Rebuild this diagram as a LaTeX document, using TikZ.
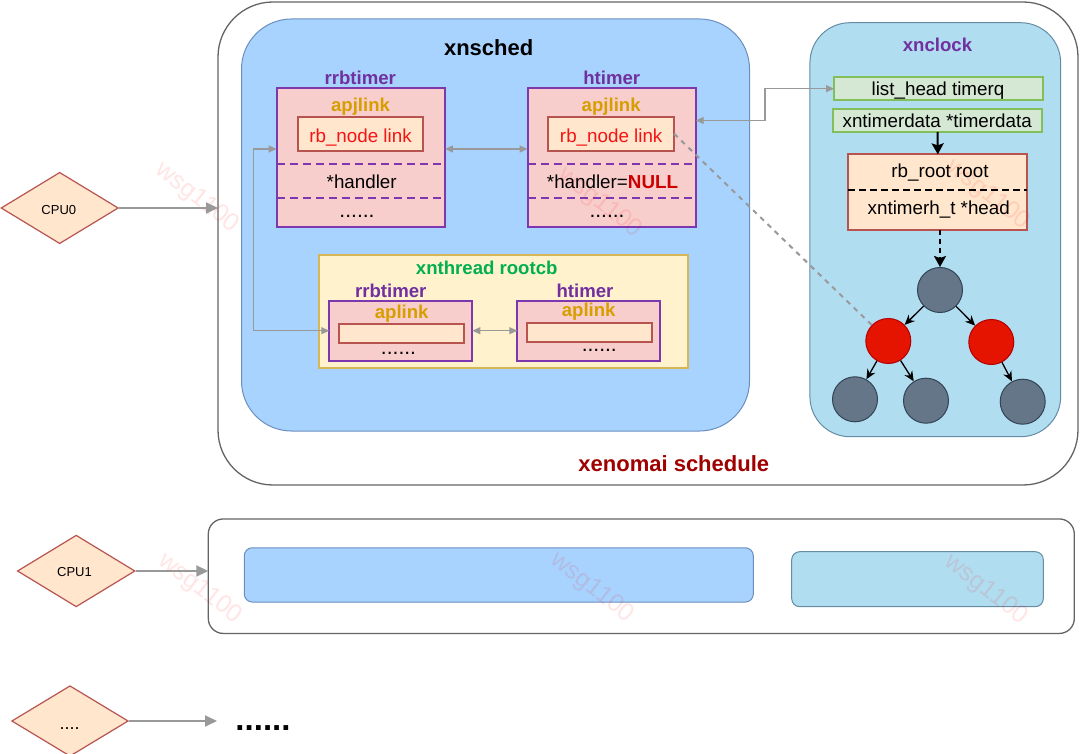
\documentclass[tikz,border=0pt]{standalone}
\usepackage{fontspec}
\setmainfont{Liberation Sans}
\usetikzlibrary{arrows.meta,shapes.geometric,calc}
\definecolor{outerc}{RGB}{100,100,100}
\definecolor{schedfill}{RGB}{167,211,254}
\definecolor{schedst}{RGB}{108,142,191}
\definecolor{clockfill}{RGB}{177,221,240}
\definecolor{clockst}{RGB}{100,140,165}
\definecolor{pinkfill}{RGB}{248,206,204}
\definecolor{purplest}{RGB}{125,55,175}
\definecolor{purpletxt}{RGB}{112,48,160}
\definecolor{goldtxt}{RGB}{215,158,0}
\definecolor{linkfill}{RGB}{255,230,204}
\definecolor{linkst}{RGB}{184,84,80}
\definecolor{linktxt}{RGB}{245,20,20}
\definecolor{nullred}{RGB}{204,0,0}
\definecolor{rootfill}{RGB}{255,242,204}
\definecolor{rootst}{RGB}{214,182,86}
\definecolor{greentxt}{RGB}{0,176,80}
\definecolor{schedred}{RGB}{160,0,0}
\definecolor{lhfill}{RGB}{213,232,212}
\definecolor{lhst}{RGB}{130,190,90}
\definecolor{nodedark}{RGB}{100,118,135}
\definecolor{nodedarkst}{RGB}{49,67,84}
\definecolor{nodered}{RGB}{229,20,0}
\definecolor{noderedst}{RGB}{178,0,0}
\definecolor{arrgray}{RGB}{153,153,153}
\definecolor{cpufill}{RGB}{255,230,204}
\definecolor{cpust}{RGB}{184,84,80}
\begin{document}
\begin{tikzpicture}[x=1pt,y=-1pt,
  box/.style={draw, inner sep=0pt, outer sep=0pt},
  lbl/.style={anchor=base, inner sep=0pt, font=\fontsize{18.6}{20}\selectfont\bfseries},
  txt/.style={anchor=base, inner sep=0pt, font=\fontsize{18.8}{20}\selectfont},
  dots/.style={anchor=base, inner sep=0pt, font=\fontsize{21}{21}\selectfont},
  small/.style={anchor=base, inner sep=0pt, font=\fontsize{13}{14}\selectfont},
  timerbox/.style={box, draw=purplest, fill=pinkfill, line width=2pt},
  linkbox/.style={box, draw=linkst, fill=linkfill, line width=2pt},
  greenbox/.style={box, draw=lhst, fill=lhfill, line width=2pt},
  pdash/.style={draw=purplest, line width=2pt, dash pattern=on 8pt off 5pt},
  gdbl/.style={draw=arrgray, line width=1.2pt, {Triangle[length=8pt,width=7pt]}-{Triangle[length=8pt,width=7pt]}},
  cpuarrow/.style={draw=arrgray, line width=2pt, -{Triangle[length=12pt,width=11pt]}},
  cpu/.style={diamond, draw=cpust, fill=cpufill, line width=1.2pt, inner sep=0pt},
  darkc/.style={circle, draw=nodedarkst, fill=nodedark, line width=1pt, minimum size=45pt, inner sep=0pt},
  redc/.style={circle, draw=noderedst, fill=nodered, line width=1pt, minimum size=45pt, inner sep=0pt},
  treearr/.style={draw=black, line width=1.3pt, -{Stealth[length=10pt,width=9pt]}},
  wm/.style={rotate=-38, text=red, opacity=0.1, inner sep=0pt, font=\fontsize{25}{25}\selectfont}
]
\useasboundingbox (0,0) rectangle (1080,754);

% outer containers
\node[box, draw=outerc, line width=1.3pt, rounded corners=55pt, minimum width=860pt, minimum height=483pt] (outer) at (648,243.5) {};
\node[box, draw=schedst, fill=schedfill, line width=1pt, rounded corners=50pt, minimum width=508pt, minimum height=412pt] (xnsched) at (495.5,225) {};
\node[box, draw=clockst, fill=clockfill, line width=1pt, rounded corners=40pt, minimum width=250.7pt, minimum height=414pt] (xnclock) at (935.3,229.7) {};

% watermarks (faint, beneath the content)
\node[wm] (wm1) at (197,198) {wsg1100};
\node[wm] (wm4) at (200,589) {wsg1100};

% xnsched contents
\node[lbl, font=\fontsize{22}{24}\selectfont\bfseries] (tsched) at (488.7,56) {xnsched};
\node[lbl, text=purpletxt] (trrb) at (360.3,84.5) {rrbtimer};
\node[lbl, text=purpletxt] (tht) at (611.7,84.5) {htimer};
\node[timerbox, minimum width=168.3pt, minimum height=138.4pt] (rrb) at (360.8,157.5) {};
\node[timerbox, minimum width=168pt, minimum height=138.4pt] (ht) at (611.7,157.5) {};
\node[lbl, text=goldtxt] (tapj1) at (360.5,111.5) {apjlink};
\node[lbl, text=goldtxt] (tapj2) at (611.2,111.5) {apjlink};
\node[linkbox, minimum width=125.6pt, minimum height=34pt] (rrblink) at (360.5,133.7) {};
\node[linkbox, minimum width=125.7pt, minimum height=34pt] (htlink) at (611.2,133.7) {};
\node[txt, text=linktxt] (trl1) at (360.5,142.3) {rb\_node link};
\node[txt, text=linktxt] (trl2) at (611.2,142.3) {rb\_node link};
\draw[pdash] ([yshift=-6.5pt]rrb.west) -- ([yshift=-6.5pt]rrb.east);
\draw[pdash] ([yshift=-40.8pt]rrb.west) -- ([yshift=-40.8pt]rrb.east);
\draw[pdash] ([yshift=-6.5pt]ht.west) -- ([yshift=-6.5pt]ht.east);
\draw[pdash] ([yshift=-40.8pt]ht.west) -- ([yshift=-40.8pt]ht.east);
\node[wm] (wm2) at (600,203) {wsg1100};
\node[txt] (th1) at (361.7,188.3) {*handler};
\node[txt] (th2) at (612.5,188.3) {*handler=\textcolor{nullred}{\bfseries NULL}};
\node[dots] (td1) at (357,217.3) {......};
\node[dots] (td2) at (607,217.3) {......};

% xnthread rootcb
\node[box, draw=rootst, fill=rootfill, line width=2pt, minimum width=368.4pt, minimum height=113.3pt] (rootcb) at (503.5,311.7) {};
\node[lbl, text=greentxt] (troot) at (486.7,275) {xnthread rootcb};
\node[lbl, text=purpletxt] (tirrb) at (390.8,297.3) {rrbtimer};
\node[lbl, text=purpletxt] (tiht) at (585,297.3) {htimer};
\node[timerbox, minimum width=143pt, minimum height=60pt] (irrb) at (400.8,330.7) {};
\node[timerbox, minimum width=142.7pt, minimum height=60pt] (iht) at (588.7,330.7) {};
\node[lbl, text=goldtxt] (tap1) at (401.7,319) {aplink};
\node[lbl, text=goldtxt] (tap2) at (588.7,316.7) {aplink};
\node[linkbox, minimum width=125pt, minimum height=19.3pt] (irrblink) at (401.5,333.7) {};
\node[linkbox, minimum width=124.4pt, minimum height=18.4pt] (ihtlink) at (589.5,332.5) {};
\node[dots] (tid1) at (398.5,355) {......};
\node[dots] (tid2) at (599.3,351.7) {......};

% xnclock contents
\node[lbl, text=purpletxt] (tclock) at (937.5,51.7) {xnclock};
\node[greenbox, minimum width=209.3pt, minimum height=22.7pt] (lhead) at (938.7,88.7) {};
\node[greenbox, minimum width=209.6pt, minimum height=23pt] (xntd) at (937.5,120.5) {};
\node[txt] (tlh) at (938,95.5) {list\_head timerq};
\node[txt] (txtd) at (937.2,127.3) {xntimerdata *timerdata};
\node[linkbox, minimum width=179pt, minimum height=75.7pt] (rbroot) at (937.8,192.2) {};
\node[wm] (wm3) at (988,195) {wsg1100};
\draw[black, line width=2pt, dash pattern=on 7pt off 4pt] ([yshift=2.2pt]rbroot.west) -- ([yshift=2.2pt]rbroot.east);
\node[txt] (trr) at (940,177.3) {rb\_root root};
\node[txt] (txh) at (938.8,215) {xntimerh\_t *head};

% tree nodes
\node[darkc] (n0) at (940,290) {};
\node[redc] (nl) at (888.3,341) {};
\node[redc] (nr) at (991.3,342) {};
\node[darkc] (nll) at (855,399.3) {};
\node[darkc] (nlr) at (926,400.7) {};
\node[darkc] (nrr) at (1022.7,401.7) {};

% connectors
\draw[gdbl] ([yshift=8.5pt]rrb.east) -- ([yshift=8.5pt]ht.west);
\draw[gdbl] ([yshift=8.5pt]rrb.west) -- ++(-23.5,0) |- (irrb.west);
\draw[gdbl] (irrb.east) -- (iht.west);
\coordinate (bend) at (765,88.7);
\draw[gdbl] (ht.east |- xntd.west) -| (bend) -- (lhead.west);
\draw[draw=arrgray, line width=2pt, dash pattern=on 5pt off 5pt] (htlink.east) -- (nl);
\draw[black, line width=2pt, -{Stealth[length=11pt,width=12pt,inset=2pt]}] (xntd.south) -- (rbroot.north);
\draw[black, line width=2pt, dash pattern=on 5pt off 4pt, -{Stealth[length=11pt,width=12pt,inset=2pt]}] (rbroot.south -| n0.north) -- (n0.north);
\draw[treearr] (n0) -- (nl);
\draw[treearr] (n0) -- (nr);
\draw[treearr] (nl) -- (nll);
\draw[treearr] (nl) -- (nlr);
\draw[treearr] (nr) -- (nrr);

\node[lbl, text=schedred, font=\fontsize{22}{24}\selectfont\bfseries] (txs) at (673.8,471.7) {xenomai schedule};

% CPU0
\node[cpu, minimum width=117.3pt, minimum height=71.4pt] (cpu0) at (59.7,208) {};
\node[small] (tc0) at (58.8,214.5) {CPU0};
\draw[cpuarrow] (cpu0.east) -- (outer.west |- cpu0.east);

% CPU1
\node[box, draw=outerc, line width=1.3pt, rounded corners=15pt, minimum width=866pt, minimum height=114.5pt] (outer1) at (641.3,576.2) {};
\node[box, draw=schedst, fill=schedfill, line width=1pt, rounded corners=8pt, minimum width=509pt, minimum height=54.3pt] (sched1) at (498.8,574.9) {};
\node[box, draw=clockst, fill=clockfill, line width=1pt, rounded corners=8pt, minimum width=251.6pt, minimum height=55pt] (clock1) at (917.5,579.2) {};
\node[wm] (wm5) at (592,588) {wsg1100};
\node[wm] (wm6) at (986,590) {wsg1100};
\node[cpu, minimum width=117.7pt, minimum height=71.7pt] (cpu1) at (76.2,571) {};
\node[small] (tc1) at (74.5,576.7) {CPU1};
\draw[cpuarrow] (cpu1.east) -- (outer1.west |- cpu1.east);

% CPU ...
\node[cpu, minimum width=116.6pt, minimum height=70.6pt] (cpu2) at (70,721) {};
\node[small, font=\fontsize{18}{18}\selectfont] (tc2) at (69.7,729) {....};
\coordinate (dotsend) at (217,721);
\draw[cpuarrow] (cpu2.east) -- (dotsend);
\node[anchor=base, inner sep=0pt, font=\fontsize{33}{33}\selectfont\bfseries] (tdots) at (263,730) {......};
\end{tikzpicture}
\end{document}
